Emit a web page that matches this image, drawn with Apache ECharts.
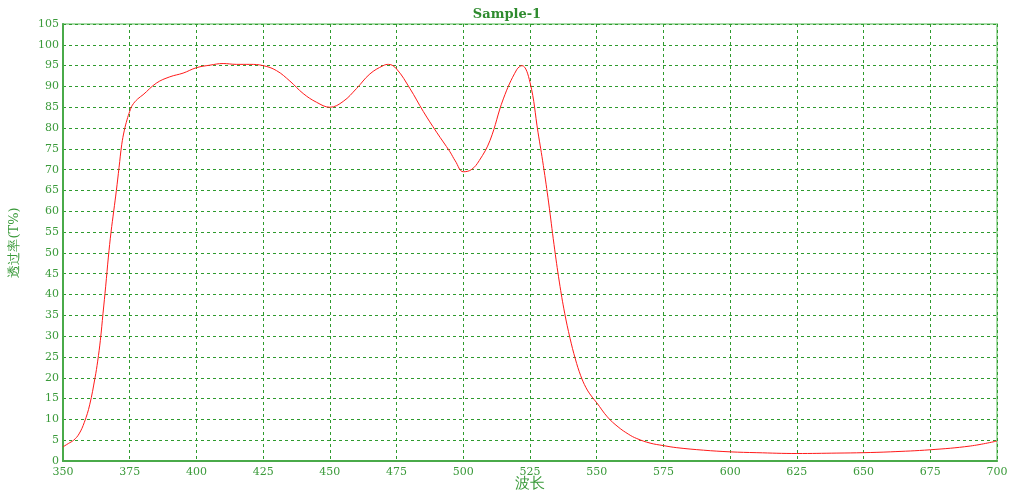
<!DOCTYPE html>
<html>
<head>
<meta charset="utf-8">
<script src="https://cdn.jsdelivr.net/npm/echarts@6/dist/echarts.min.js"></script>
<style>
html,body{margin:0;padding:0;background:#fff;}
#chart{width:1014px;height:492px;}
</style>
</head>
<body>
<div id="chart"></div>
<script>
var titleText = 'Sample-1';
var xAxisName = '波长';
var yAxisName = '透过率(T%)';
var wavelength = [350,352,354,356,358,360,362,363,364,365,366,367,368,369,370,371,372,373,374,375,376,378,380,385,390,395,400,405,410,415,420,425,430,435,440,445,450,455,460,465,470,472,475,480,485,490,495,497,500,503,506,510,515,520,522,525,528,530,532,534,536,538,540,542,544,546,548,550,554,558,562,565,570,575,580,590,600,610,625,640,650,660,675,690,700];
var transmittance = [3.4,4.2,5.0,6.5,9.3,13.5,20,24,29,35.5,42,49,55,60,65,70.5,76,79.5,82,84,85.5,87,88,90.8,92.3,93.2,94.5,95.1,95.5,95.3,95.3,95.0,93.8,91.3,88.3,86.2,85,86.4,89.5,93,95,95.3,94.2,89.5,84,79,74.3,72.1,69.5,70.0,72.2,77,87,94,95,91,79,71,62,52,43,35.5,29.5,24.5,20.5,17.6,15.6,14,10.6,8.2,6.4,5.4,4.3,3.7,3.2,2.6,2.2,2.0,1.8,1.9,2.0,2.2,2.7,3.6,4.8];

var green = '#3a9a3a';
var font = 'DejaVu Serif';
var chart = echarts.init(document.getElementById('chart'));
var pts = wavelength.map(function(w,i){return [w, transmittance[i]];});
chart.setOption({
  backgroundColor: '#ffffff',
  animation: false,
  title: {
    text: titleText, left: 'center', top: 3,
    textStyle: {color: '#2e8b2e', fontFamily: font, fontWeight: 'bold', fontSize: 13}
  },
  grid: {left: 63, right: 17, top: 24, bottom: 31, outerBoundsMode: 'none', containLabel: false, show: true, borderColor: '#a8dca8', borderWidth: 2, backgroundColor: '#fff'},
  xAxis: {
    type: 'value', min: 350, max: 700, interval: 25,
    name: xAxisName, nameLocation: 'middle', nameGap: 16, nameMoveOverlap: false,
    nameTextStyle: {color: green, fontFamily: font, fontSize: 15, verticalAlign: 'top'},
    axisLine: {show: true, lineStyle: {color: '#4aaa4a', width: 2}},
    axisTick: {show: false},
    axisLabel: {color: green, fontFamily: font, fontSize: 11, margin: 6},
    splitLine: {show: true, lineStyle: {color: '#2e9a2e', type: [3, 3], width: 1}}
  },
  yAxis: {
    type: 'value', min: 0, max: 105, interval: 5,
    name: yAxisName, nameLocation: 'middle', nameGap: 42, nameRotate: 90, nameMoveOverlap: false,
    nameTextStyle: {color: green, fontFamily: font, fontSize: 13},
    axisLine: {show: true, lineStyle: {color: '#4aaa4a', width: 2}},
    axisTick: {show: false},
    axisLabel: {color: green, fontFamily: font, fontSize: 11, margin: 4},
    splitLine: {show: true, lineStyle: {color: '#2e9a2e', type: [3, 3], width: 1}}
  },
  series: [{
    type: 'line', data: pts, smooth: 0.4, showSymbol: false,
    lineStyle: {color: '#ff1a1a', width: 1}
  }]
});
</script>
</body>
</html>
